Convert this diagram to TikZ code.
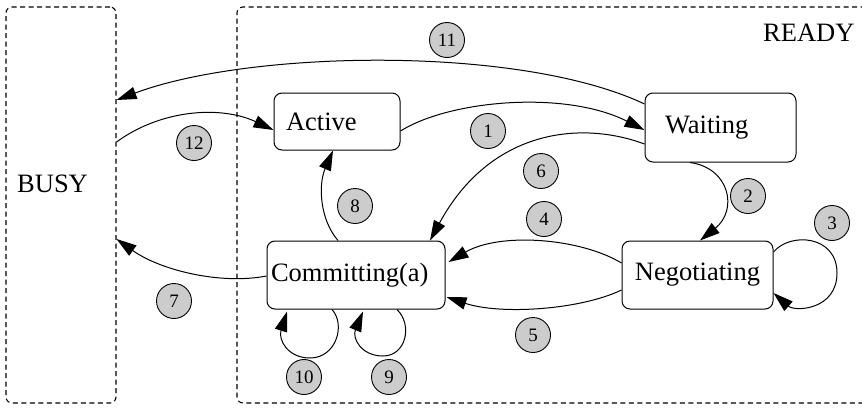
\documentclass[tikz,border=0pt]{standalone}
\usepackage{fontspec}
\setmainfont{Liberation Serif}
\usetikzlibrary{arrows.meta}
\begin{document}
\begin{tikzpicture}[x=1pt,y=-1pt,
  container/.style={draw, line width=1.1pt, dash pattern=on 5pt off 3.5pt, rounded corners=6pt, inner sep=0pt},
  statebox/.style={draw, line width=1pt, rounded corners=8pt, inner ysep=0pt, font=\fontsize{26.5}{30}\selectfont},
  bigtext/.style={inner sep=0pt, font=\fontsize{26.5}{30}\selectfont},
  num/.style={circle, draw, line width=0.9pt, fill=black!20, minimum size=35pt, inner sep=0pt, font=\fontsize{19}{22}\selectfont},
  edge/.style={line width=1pt, -{Triangle[length=20pt,width=12.5pt]}}
]
\useasboundingbox (0,0) rectangle (862,407);
\clip (0,0) rectangle (862,407);

% containers
\node[container, minimum width=110pt, minimum height=396pt] (busy) at (61,205) {};
\node[container, minimum width=643pt, minimum height=396pt] (ready) at (558.5,205) {};
\node[bigtext, anchor=base west] (busylbl) at (17,192) {BUSY};
\node[bigtext, anchor=base west] (readylbl) at (763,41) {READY};

% states
\node[statebox, minimum height=57pt, text width=102pt, inner xsep=12pt, align=left] (active) at (337,121.5) {Active};
\node[statebox, minimum height=69pt, text width=111pt, inner xsep=20pt, align=left] (waiting) at (720.5,127.5) {Waiting};
\node[statebox, minimum height=68pt, text width=170pt, inner xsep=4pt, align=left] (committing) at (356,275) {Committing(a)};
\node[statebox, minimum height=68pt, minimum width=151pt, inner xsep=0pt] (negotiating) at (697.5,275) {Negotiating};

% transitions
\draw[edge] ([yshift=23.5pt]waiting.west) .. controls (520,45) and (250,50) .. ([yshift=105pt]busy.east);
\draw[edge] ([yshift=-9.5pt]active.east) .. controls (450,100) and (565,90) .. ([yshift=-2.5pt]waiting.west);
\draw[edge] ([yshift=-16.5pt]waiting.west) .. controls (580,120) and (490,130) .. ([xshift=74pt]committing.north);
\draw[edge] ([xshift=-30.5pt]waiting.south) .. controls (730,168) and (738,210) .. ([xshift=2.5pt]negotiating.north);
\draw[edge] ([yshift=23pt]negotiating.east) .. controls (790,232) and (837,235) .. (837,273)
   .. controls (837,310) and (795,312) .. ([yshift=-18pt]negotiating.east);
\draw[edge] ([yshift=12pt]negotiating.west) .. controls (580,238) and (500,232) .. ([xshift=3pt,yshift=13pt]committing.east);
\draw[edge] ([yshift=-15pt]negotiating.west) .. controls (580,310) and (500,315) .. ([xshift=1pt,yshift=-22pt]committing.east);
\draw[edge] ([yshift=-1pt]committing.west) .. controls (220,285) and (160,270) .. ([yshift=-34pt]busy.east);
\draw[edge] ([xshift=-18pt]committing.north) .. controls (320,220) and (318,185) .. ([xshift=-4pt]active.south);
\draw[edge] ([yshift=63pt]busy.east) .. controls (160,110) and (220,105) .. ([yshift=-8.5pt]active.west);
\draw[edge] ([xshift=-24pt]committing.south) .. controls (346,325) and (336,358) .. (310,358)
   .. controls (288,358) and (278,340) .. ([xshift=-69pt,yshift=-2pt]committing.south);
\draw[edge] ([xshift=41pt]committing.south) .. controls (413,325) and (406,356) .. (383,356)
   .. controls (361,356) and (352,338) .. ([xshift=7pt,yshift=-2pt]committing.south);

% transition numbers
\node[num] (c1) at (488,131) {1};
\node[num] (c2) at (748,196) {2};
\node[num] (c3) at (832,223) {3};
\node[num] (c4) at (544,219) {4};
\node[num] (c5) at (533,335) {5};
\node[num] (c6) at (541,171) {6};
\node[num] (c7) at (174,301) {7};
\node[num] (c8) at (355,206) {8};
\node[num] (c9) at (389,377) {9};
\node[num] (c10) at (304,377) {10};
\node[num] (c11) at (447,40) {11};
\node[num] (c12) at (194,143) {12};
\end{tikzpicture}
\end{document}
